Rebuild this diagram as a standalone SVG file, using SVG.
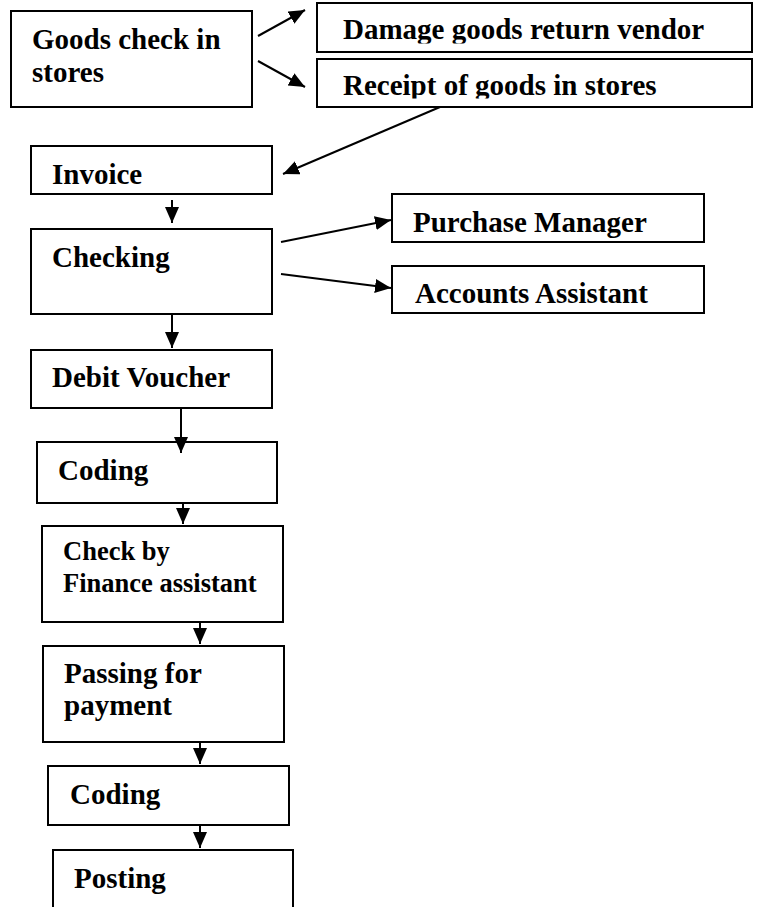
<svg xmlns="http://www.w3.org/2000/svg" width="760" height="907" viewBox="0 0 760 907">
<style>
.box{fill:#fff;stroke:#000;stroke-width:2}
.t{font-family:"Liberation Serif","Times New Roman",serif;font-weight:bold;font-size:29px;fill:#000}
.s{font-size:26.5px}
.c line{stroke:#000;stroke-width:2;marker-end:url(#ah)}
</style>
<defs>
<marker id="ah" markerUnits="userSpaceOnUse" markerWidth="18" markerHeight="16" refX="16" refY="7" orient="auto">
<path d="M0,0 L16,7 L0,14 z" fill="#000"/>
</marker>
<clipPath id="cpD"><rect x="317" y="0" width="436" height="43.5"/></clipPath>
<clipPath id="cpR"><rect x="317" y="59" width="436" height="39.5"/></clipPath>
<clipPath id="cpP"><rect x="392" y="194" width="313" height="47"/></clipPath>
</defs>
<rect width="760" height="907" fill="#fff"/>
<g id="goods"><rect class="box" x="11" y="11" width="241" height="96"/><text class="t" x="32" y="49">Goods check in</text><text class="t" x="32" y="82">stores</text></g>
<g id="damage"><rect class="box" x="317" y="3" width="435" height="49"/><text class="t" x="343" y="39" clip-path="url(#cpD)">Damage goods return vendor</text></g>
<g id="receipt"><rect class="box" x="317" y="59" width="435" height="48"/><text class="t" x="343" y="95" clip-path="url(#cpR)">Receipt of goods in stores</text></g>
<g id="invoice"><rect class="box" x="31" y="146" width="241" height="48"/><text class="t" x="52" y="184">Invoice</text></g>
<g id="checking"><rect class="box" x="31" y="229" width="241" height="85"/><text class="t" x="52" y="267">Checking</text></g>
<g id="purchase"><rect class="box" x="392" y="194" width="312" height="48"/><text class="t" x="413" y="232" clip-path="url(#cpP)">Purchase Manager</text></g>
<g id="accounts"><rect class="box" x="392" y="266" width="312" height="47"/><text class="t" x="415" y="303">Accounts Assistant</text></g>
<g id="debit"><rect class="box" x="31" y="350" width="241" height="58"/><text class="t" x="52" y="387">Debit Voucher</text></g>
<g id="coding1"><rect class="box" x="37" y="442" width="240" height="61"/><text class="t" x="58" y="480">Coding</text></g>
<g id="checkfa"><rect class="box" x="42" y="526" width="241" height="96"/><text class="t s" x="63" y="560">Check by</text><text class="t s" x="63" y="592">Finance assistant</text></g>
<g id="passing"><rect class="box" x="43" y="646" width="241" height="96"/><text class="t" x="64" y="683">Passing for</text><text class="t" x="64" y="715">payment</text></g>
<g id="coding2"><rect class="box" x="48" y="766" width="241" height="59"/><text class="t" x="70" y="804">Coding</text></g>
<g id="posting"><rect class="box" x="53" y="850" width="240" height="70"/><text class="t" x="74" y="888">Posting</text></g>
<g class="c" id="connectors">
<line x1="258" y1="36" x2="305" y2="10"/>
<line x1="258" y1="61" x2="305" y2="87"/>
<line x1="440" y1="107" x2="283" y2="174"/>
<line x1="172" y1="200" x2="172" y2="223"/>
<line x1="281" y1="242" x2="391" y2="220"/>
<line x1="281" y1="274" x2="391" y2="288"/>
<line x1="172" y1="314" x2="172" y2="348"/>
<line x1="181" y1="408" x2="181" y2="453"/>
<line x1="183" y1="503" x2="183" y2="524"/>
<line x1="200" y1="622" x2="200" y2="644"/>
<line x1="200" y1="742" x2="200" y2="764"/>
<line x1="200" y1="825" x2="200" y2="848"/>
</g>
</svg>
